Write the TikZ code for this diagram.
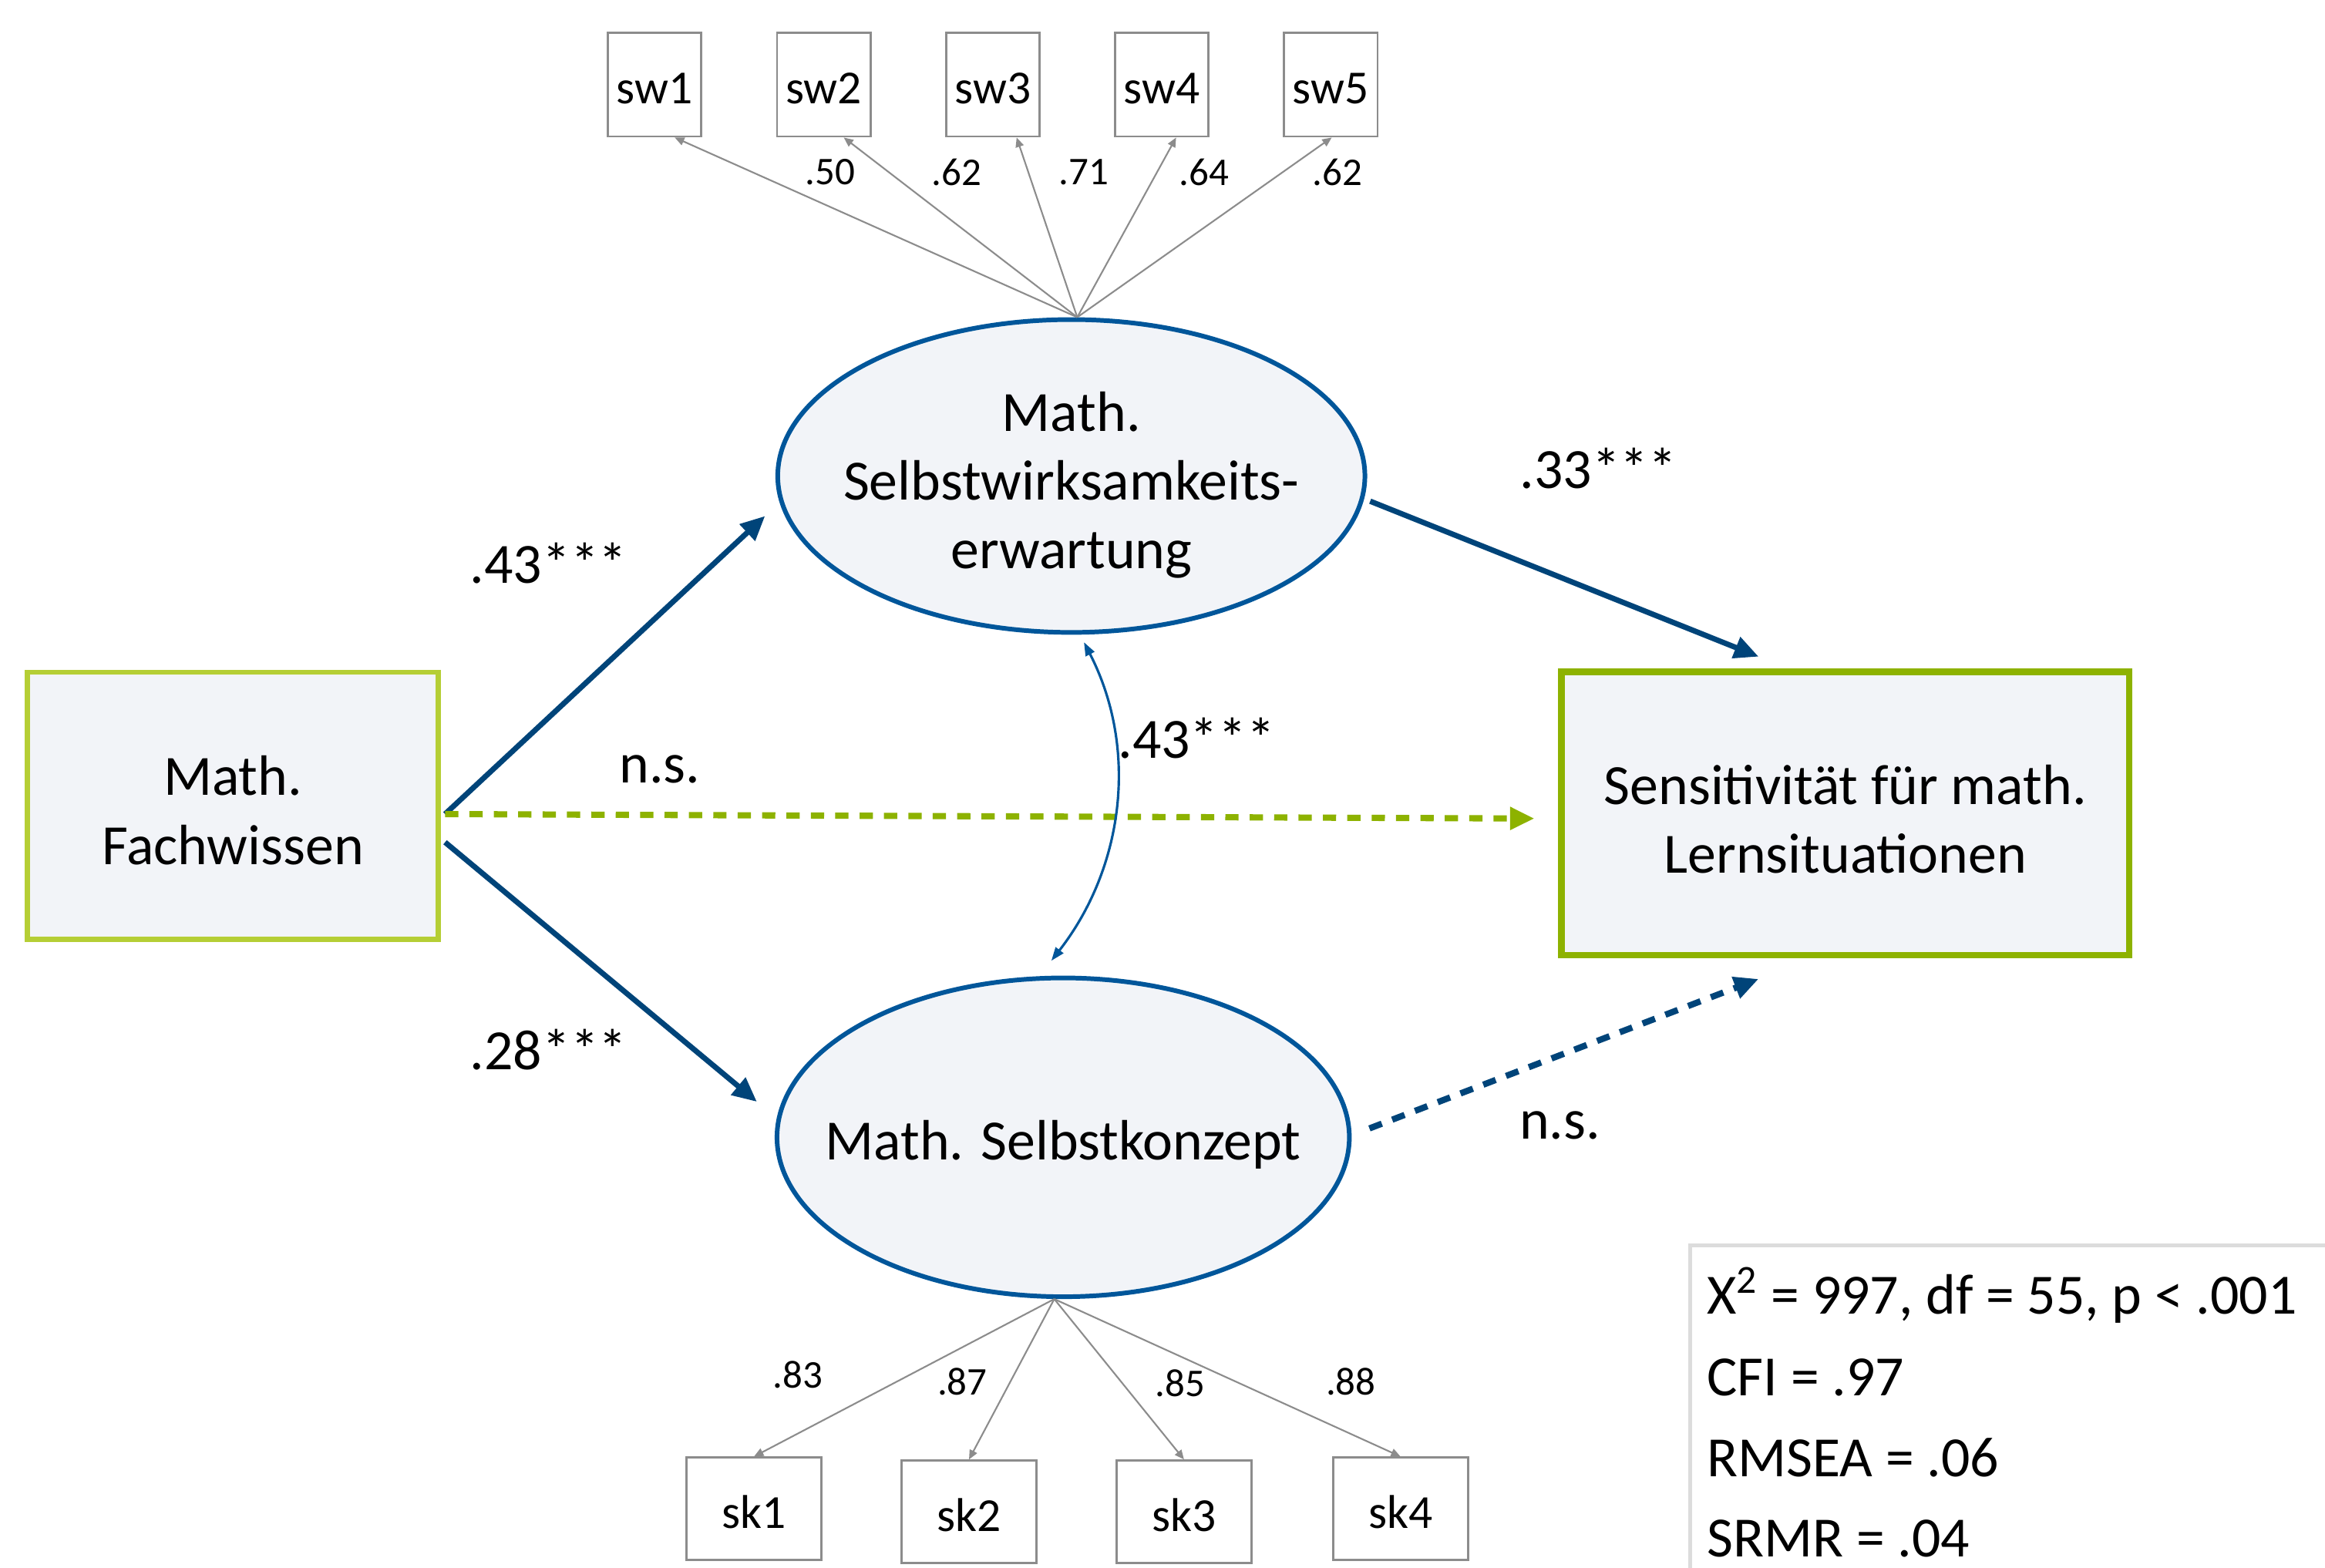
\documentclass[tikz,border=0pt]{standalone}
\usepackage{fontspec}
\setmainfont{Carlito}
\usetikzlibrary{arrows.meta,calc,shapes.geometric}
\definecolor{ellblue}{HTML}{00569A}
\definecolor{arrblue}{HTML}{004479}
\definecolor{lgreen}{HTML}{B5CE35}
\definecolor{dgreen}{HTML}{8DB200}
\definecolor{boxfill}{HTML}{F2F4F8}
\definecolor{indgray}{HTML}{8C8C8C}
\definecolor{fitgray}{HTML}{DCDCDC}
\def\upx{0.5473pt}
\begin{document}
\begin{tikzpicture}[x=0.5473pt,y=-0.5473pt,
  indbox/.style={draw=indgray, line width=0.8pt, fill=white, minimum width=63*\upx, minimum height=70*\upx, inner sep=0pt, text height=14.3pt, text depth=0pt, font=\fontsize{17.5}{21}\selectfont},
  skbox/.style={indbox, minimum width=91*\upx, minimum height=69*\upx},
  bigtext/.style={align=center, inner sep=0pt, font=\fontsize{21}{25.4}\selectfont},
  latent/.style={ellipse, draw=ellblue, line width=1.7pt, fill=boxfill, inner sep=0pt},
  obsbox/.style={rectangle, fill=boxfill, inner sep=0pt},
  pathar/.style={draw=arrblue, line width=2pt, -{Triangle[length=9pt,width=8pt]}},
  dashedline/.style={line width=2.3pt, dash pattern=on 4.9pt off 4.1pt},
  ind/.style={draw=indgray, line width=0.6pt, -{Triangle[length=3.5pt,width=3pt]}},
  corr/.style={draw=ellblue, line width=0.9pt, {Triangle[length=5pt,width=3.5pt]}-{Triangle[length=5pt,width=3.5pt]}},
  lab/.style={font=\fontsize{21}{25}\selectfont, inner sep=0pt},
  slab/.style={font=\fontsize{14.5}{17}\selectfont, inner sep=0pt}
]
\useasboundingbox (0,0) rectangle (1568,1057);

% observed boxes
\node[obsbox, draw=lgreen, line width=1.8pt, minimum width=277*\upx, minimum height=180*\upx,
  label={[bigtext, yshift=-3*\upx]center:{Math.\\Fachwissen}}] (fw) at (157,543.5) {};
\node[obsbox, draw=dgreen, line width=2.4pt, minimum width=383*\upx, minimum height=191*\upx,
  label={[bigtext, yshift=-4*\upx]center:{Sensitivität für math.\\Lernsituationen}}] (sens) at (1244.5,548.5) {};

% latent variables
\node[latent, minimum width=396*\upx, minimum height=211*\upx,
  label={[bigtext, yshift=-6*\upx]center:{Math.\\Selbstwirksamkeits-\\erwartung}}] (sw) at (722.5,321) {};
\node[latent, minimum width=386*\upx, minimum height=215*\upx,
  label={[bigtext, yshift=-5*\upx]center:{Math. Selbstkonzept}}] (sk) at (717,767) {};

% indicators
\node[indbox] (sw1) at (441.5,57) {sw1};
\node[indbox] (sw2) at (555.5,57) {sw2};
\node[indbox] (sw3) at (669.5,57) {sw3};
\node[indbox] (sw4) at (783.5,57) {sw4};
\node[indbox] (sw5) at (897.5,57) {sw5};
\node[skbox] (sk1) at (508.5,1017.5) {sk1};
\node[skbox] (sk2) at (653.5,1019.5) {sk2};
\node[skbox] (sk3) at (798.5,1019.5) {sk3};
\node[skbox] (sk4) at (944.5,1017.5) {sk4};

\coordinate (swtop) at ($(sw.north)+(4,0)$);
\coordinate (skbot) at ($(sk.south)+(-6,0)$);
\foreach \i/\f in {1/0.71,2/0.71,3/0.75,4/0.65,5/0.51}
  \draw[ind] (swtop) -- ($(sw\i.south west)!\f!(sw\i.south east)$);
\foreach \i in {1,2,3,4}
  \draw[ind] (skbot) -- (sk\i.north);

% loadings
\node[slab] (l1) at (560,116) {.50};
\node[slab] (l2) at (645,116) {.62};
\node[slab] (l3) at (731,116) {.71};
\node[slab] (l4) at (812,116) {.64};
\node[slab] (l5) at (902,116) {.62};
\node[slab] (k1) at (538,927) {.83};
\node[slab] (k2) at (649,932) {.87};
\node[slab] (k3) at (796,933) {.85};
\node[slab] (k4) at (911,932) {.88};

% structural paths
\draw[pathar] ($(fw.east)+(3,5.5)$) -- ($(sw.west)+(-7,27)$);
\draw[pathar] ($(fw.east)+(3,24.5)$) -- ($(sk.west)+(-12,-24)$);
\draw[pathar, draw=dgreen, dashedline] ($(fw.east)+(3,5.5)$) -- ($(sens.west)+(-16,3.5)$);
\draw[pathar] ($(sw.east)+(2,17)$) -- ($(sens.north)+(-58.5,-8)$);
\draw[pathar, dashedline] ($(sk.east)+(12,-6)$) -- ($(sens.south)+(-58.5,14)$);
\draw[corr] ($(sw.south)+(8.5,5)$) .. controls ($(sw.south)+(45.5,77)$) and ($(sk.north)+(41,-73)$) .. ($(sk.north)+(-8,-10)$);

% path labels
\node[lab] (p1) at (370,380) {.43***};
\node[lab] (p2) at (445,519) {n.s.};
\node[lab] (p3) at (370,708) {.28***};
\node[lab] (p4) at (1078,316) {.33***};
\node[lab] (p5) at (807,498) {.43***};
\node[lab] (p6) at (1052,759) {n.s.};

% fit box
\draw[fitgray, line width=1.5pt, fill=white] (1140,840) rectangle (1600,1090);
\node[lab, anchor=base west] (f1) at (1151,886) {X\textsuperscript{2} = 997, df = 55, p < .001};
\node[lab, anchor=base west] (f2) at (1151,941) {CFI = .97};
\node[lab, anchor=base west] (f3) at (1151,996) {RMSEA = .06};
\node[lab, anchor=base west] (f4) at (1151,1050) {SRMR = .04};
\end{tikzpicture}
\end{document}
